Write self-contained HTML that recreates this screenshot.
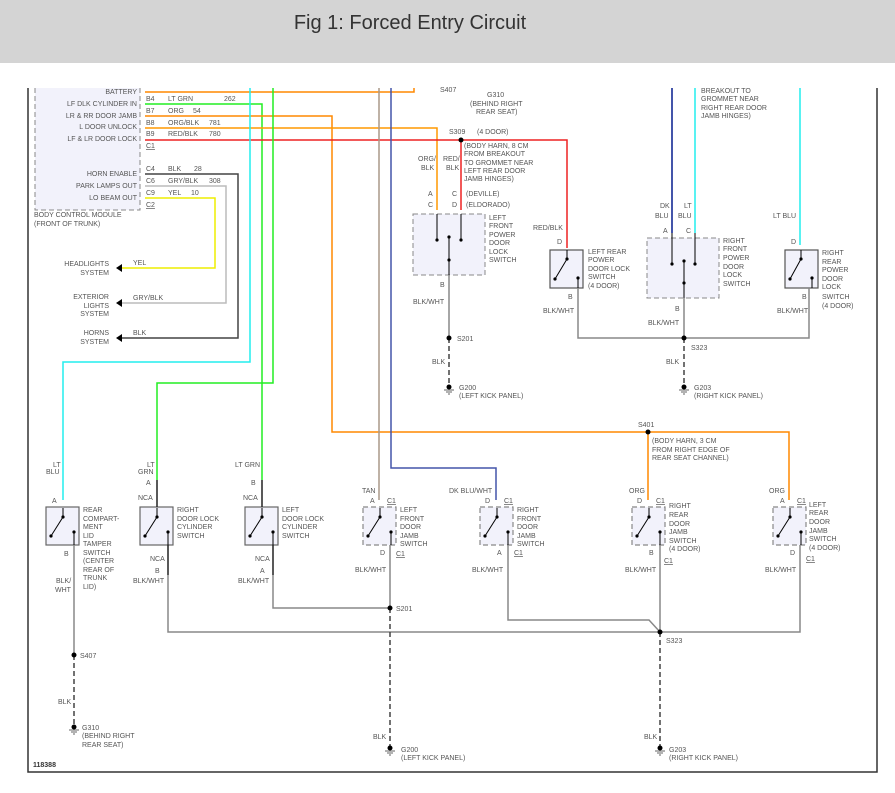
<!DOCTYPE html>
<html><head><meta charset="utf-8"><style>
html,body{margin:0;padding:0;background:#fff;width:895px;height:793px;overflow:hidden}
svg{display:block}
text{font-family:"Liberation Sans",sans-serif;font-size:7px;fill:#555}
.t{font-size:20px;fill:#333}
</style></head><body>
<svg width="895" height="793" viewBox="0 0 895 793">
<defs>
<g id="sw">
<rect x="0" y="0" width="33" height="38" fill="#f2f2fb" stroke="#666" stroke-width="1.2"/>
<line x1="5" y1="29" x2="17" y2="10" stroke="#000" stroke-width="1"/>
<circle cx="17" cy="10" r="1.6" fill="#000"/><circle cx="5" cy="29" r="1.6" fill="#000"/>
<line x1="17" y1="10" x2="17" y2="1" stroke="#000"/>
<circle cx="28" cy="25" r="1.6" fill="#000"/>
<line x1="28" y1="25" x2="28" y2="38" stroke="#000"/>
</g>
<g id="swd">
<rect x="0" y="0" width="33" height="38" fill="#f2f2fb" stroke="#888" stroke-width="1.2" stroke-dasharray="5,3"/>
<line x1="5" y1="29" x2="17" y2="10" stroke="#000" stroke-width="1"/>
<circle cx="17" cy="10" r="1.6" fill="#000"/><circle cx="5" cy="29" r="1.6" fill="#000"/>
<line x1="17" y1="10" x2="17" y2="1" stroke="#000"/>
<circle cx="28" cy="25" r="1.6" fill="#000"/>
<line x1="28" y1="25" x2="28" y2="38" stroke="#000"/>
</g>
<g id="gnd"><circle cx="0" cy="0" r="2.5" fill="#000"/><line x1="-5" y1="3" x2="5" y2="3" stroke="#666"/><line x1="-3" y1="5" x2="3" y2="5" stroke="#666"/><line x1="-1" y1="7" x2="1" y2="7" stroke="#666"/></g>
</defs>
<rect x="0" y="0" width="895" height="63" fill="#d4d4d4"/>
<text x="410" y="29" class="t" text-anchor="middle">Fig 1: Forced Entry Circuit</text>
<!-- frame -->
<path d="M28 88 V772 H877 V88" fill="none" stroke="#333" stroke-width="1.5"/>
<!-- BCM -->
<path d="M35 88 V210 H140 V88" fill="#f2f2fb" stroke="#888" stroke-dasharray="5,3"/>
<g text-anchor="end">
<text x="137" y="94">BATTERY</text><text x="137" y="106">LF DLK CYLINDER IN</text><text x="137" y="118">LR &amp; RR DOOR JAMB</text><text x="137" y="129">L DOOR UNLOCK</text><text x="137" y="141">LF &amp; LR DOOR LOCK</text>
<text x="137" y="176">HORN ENABLE</text><text x="137" y="188">PARK LAMPS OUT</text><text x="137" y="200">LO BEAM OUT</text>
</g>
<text x="146" y="101">B4</text><text x="146" y="113">B7</text><text x="146" y="125">B8</text><text x="146" y="136">B9</text><text x="146" y="148" text-decoration="underline">C1</text>
<text x="146" y="171">C4</text><text x="146" y="183">C6</text><text x="146" y="195">C9</text><text x="146" y="207" text-decoration="underline">C2</text>
<text x="168" y="101">LT GRN</text><text x="224" y="101">262</text><text x="168" y="113">ORG</text><text x="193" y="113">54</text>
<text x="168" y="125">ORG/BLK</text><text x="209" y="125">781</text><text x="168" y="136">RED/BLK</text><text x="209" y="136">780</text>
<text x="168" y="171">BLK</text><text x="194" y="171">28</text><text x="168" y="183">GRY/BLK</text><text x="209" y="183">308</text><text x="168" y="195">YEL</text><text x="191" y="195">10</text>
<text x="34" y="217">BODY CONTROL MODULE</text><text x="34" y="226">(FRONT OF TRUNK)</text>
<!-- BCM outputs -->
<path d="M145 174 H238 V338 H122" fill="none" stroke="#444" stroke-width="1.5"/>
<path d="M145 186 H226 V303 H122" fill="none" stroke="#bbb" stroke-width="1.5"/>
<path d="M145 198 H215 V268 H122" fill="none" stroke="#ee0" stroke-width="1.5"/>
<path d="M116 268 l6 -4 v8z M116 303 l6 -4 v8z M116 338 l6 -4 v8z" fill="#000"/>
<text x="133" y="265">YEL</text><text x="133" y="300">GRY/BLK</text><text x="133" y="335">BLK</text>
<g text-anchor="end"><text x="109" y="266">HEADLIGHTS</text><text x="109" y="275">SYSTEM</text>
<text x="109" y="299">EXTERIOR</text><text x="109" y="308">LIGHTS</text><text x="109" y="316">SYSTEM</text>
<text x="109" y="335">HORNS</text><text x="109" y="344">SYSTEM</text></g>
<!-- main wires -->
<path d="M145 92 H414 V88" fill="none" stroke="#f80" stroke-width="1.5"/>
<path d="M145 104 H262 V480" fill="none" stroke="#2e2" stroke-width="1.5"/>
<path d="M145 116 H332 V432 H789 V500 M648 432 V500" fill="none" stroke="#f80" stroke-width="1.5"/>
<path d="M145 128 H437 V210" fill="none" stroke="#f90" stroke-width="1.5"/>
<path d="M145 140 H567 V248 M461 140 V210" fill="none" stroke="#e22" stroke-width="1.5"/>
<path d="M250 88 V362 H63 V500" fill="none" stroke="#2ee" stroke-width="1.5"/>
<path d="M273 88 V383 H157 V480" fill="none" stroke="#2e2" stroke-width="1.5"/>
<path d="M379 88 V500" fill="none" stroke="#a98" stroke-width="1.5"/>
<path d="M391 88 V468 H496 V500" fill="none" stroke="#45a" stroke-width="1.5"/>
<path d="M672 88 V233" fill="none" stroke="#45a" stroke-width="2"/>
<path d="M695 88 V233 M800 88 V245" fill="none" stroke="#2ee" stroke-width="1.5"/>
<circle cx="461" cy="140" r="2.5" fill="#000"/><circle cx="648" cy="432" r="2.5" fill="#000"/>
<text x="440" y="92">S407</text><text x="487" y="97">G310</text><text x="470" y="106">(BEHIND RIGHT</text><text x="476" y="114">REAR SEAT)</text>
<text x="449" y="134">S309</text><text x="477" y="134">(4 DOOR)</text>
<text x="464" y="148">(BODY HARN, 8 CM</text><text x="464" y="156">FROM BREAKOUT</text><text x="464" y="165">TO GROMMET NEAR</text><text x="464" y="173">LEFT REAR DOOR</text><text x="464" y="181">JAMB HINGES)</text>
<text x="418" y="161">ORG/</text><text x="421" y="170">BLK</text><text x="443" y="161">RED/</text><text x="446" y="170">BLK</text>
<text x="428" y="196">A</text><text x="452" y="196">C</text><text x="466" y="196">(DEVILLE)</text>
<text x="428" y="207">C</text><text x="452" y="207">D</text><text x="466" y="207">(ELDORADO)</text>
<text x="701" y="93">BREAKOUT TO</text><text x="701" y="101">GROMMET NEAR</text><text x="701" y="110">RIGHT REAR DOOR</text><text x="701" y="118">JAMB HINGES)</text>
<!-- LF power switch -->
<rect x="413" y="214" width="72" height="61" fill="#f2f2fb" stroke="#888" stroke-dasharray="5,3"/>
<path d="M437 214 V240 M461 214 V240 M449 237 V275" stroke="#000"/>
<circle cx="437" cy="240" r="1.6"/><circle cx="461" cy="240" r="1.6"/><circle cx="449" cy="237" r="1.6"/><circle cx="449" cy="260" r="1.6"/>
<text x="489" y="220">LEFT</text><text x="489" y="228">FRONT</text><text x="489" y="237">POWER</text><text x="489" y="245">DOOR</text><text x="489" y="254">LOCK</text><text x="489" y="262">SWITCH</text>
<text x="440" y="287">B</text><text x="413" y="304">BLK/WHT</text>
<path d="M449 275 V338" stroke="#888" stroke-width="1.5"/>
<path d="M449 338 V387" stroke="#444" stroke-width="1.5" stroke-dasharray="5,3"/>
<circle cx="449" cy="338" r="2.5"/><text x="457" y="341">S201</text><text x="432" y="364">BLK</text>
<use href="#gnd" x="449" y="387"/><text x="459" y="390">G200</text><text x="459" y="398">(LEFT KICK PANEL)</text>
<!-- LR power -->
<rect x="550" y="250" width="33" height="38" fill="#f2f2fb" stroke="#555" stroke-width="1.2"/>
<path d="M555 279 L567 259 M567 259 V250 M578 278 V288" stroke="#000"/><circle cx="567" cy="259" r="1.6"/><circle cx="555" cy="279" r="1.6"/><circle cx="578" cy="278" r="1.6"/>
<text x="533" y="230">RED/BLK</text><text x="557" y="244">D</text>
<text x="588" y="254">LEFT REAR</text><text x="588" y="262">POWER</text><text x="588" y="271">DOOR LOCK</text><text x="588" y="279">SWITCH</text><text x="588" y="288">(4 DOOR)</text>
<text x="568" y="299">B</text><text x="543" y="313">BLK/WHT</text>
<!-- RF power -->
<rect x="647" y="238" width="72" height="60" fill="#f2f2fb" stroke="#888" stroke-dasharray="5,3"/>
<path d="M672 233 V264 M695 233 V264 M684 261 V298" stroke="#000"/><circle cx="672" cy="264" r="1.6"/><circle cx="695" cy="264" r="1.6"/><circle cx="684" cy="261" r="1.6"/><circle cx="684" cy="283" r="1.6"/>
<text x="660" y="208">DK</text><text x="655" y="218">BLU</text><text x="684" y="208">LT</text><text x="678" y="218">BLU</text>
<text x="663" y="233">A</text><text x="686" y="233">C</text>
<text x="723" y="243">RIGHT</text><text x="723" y="251">FRONT</text><text x="723" y="260">POWER</text><text x="723" y="269">DOOR</text><text x="723" y="277">LOCK</text><text x="723" y="286">SWITCH</text>
<text x="675" y="311">B</text><text x="648" y="325">BLK/WHT</text>
<!-- RR power -->
<rect x="785" y="250" width="33" height="38" fill="#f2f2fb" stroke="#555" stroke-width="1.2"/>
<path d="M790 279 L801 259 M801 259 V250 M812 278 V288" stroke="#000"/><circle cx="801" cy="259" r="1.6"/><circle cx="790" cy="279" r="1.6"/><circle cx="812" cy="278" r="1.6"/>
<text x="773" y="218">LT BLU</text><text x="791" y="244">D</text>
<text x="822" y="255">RIGHT</text><text x="822" y="264">REAR</text><text x="822" y="272">POWER</text><text x="822" y="281">DOOR</text><text x="822" y="289">LOCK</text><text x="822" y="299">SWITCH</text><text x="822" y="308">(4 DOOR)</text>
<text x="802" y="299">B</text><text x="777" y="313">BLK/WHT</text>
<path d="M578 288 V338 H809 V288 M684 298 V338" fill="none" stroke="#888" stroke-width="1.5"/>
<path d="M684 338 V387" stroke="#444" stroke-width="1.5" stroke-dasharray="5,3"/>
<circle cx="684" cy="338" r="2.5"/><text x="691" y="350">S323</text><text x="666" y="364">BLK</text>
<use href="#gnd" x="684" y="387"/><text x="694" y="390">G203</text><text x="694" y="398">(RIGHT KICK PANEL)</text>
<!-- bottom switches -->
<use href="#sw" x="46" y="507"/><use href="#sw" x="140" y="507"/><use href="#sw" x="245" y="507"/>
<use href="#swd" x="363" y="507"/><use href="#swd" x="480" y="507"/><use href="#swd" x="632" y="507"/><use href="#swd" x="773" y="507"/>
<path d="M157 480 V507 M262 480 V507" stroke="#222" stroke-width="1.5"/>
<path d="M168 545 V575 M273 545 V575" stroke="#222" stroke-width="1.5"/>
<!-- bottom grounds -->
<path d="M74 545 V655" stroke="#888" stroke-width="1.5"/>
<path d="M74 655 V727" stroke="#444" stroke-width="1.5" stroke-dasharray="5,3"/>
<circle cx="74" cy="655" r="2.5"/><use href="#gnd" x="74" y="727"/>
<path d="M168 575 V632 H800 V545 M273 575 V608 H390 M390 545 V608 M508 545 V620 H649 L660 632 M660 545 V632" fill="none" stroke="#888" stroke-width="1.5"/>
<path d="M390 608 V748 M660 632 V748" stroke="#444" stroke-width="1.5" stroke-dasharray="5,3"/>
<circle cx="390" cy="608" r="2.5"/><circle cx="660" cy="632" r="2.5"/>
<use href="#gnd" x="390" y="748"/><use href="#gnd" x="660" y="748"/>
<text x="53" y="467">LT</text><text x="46" y="474">BLU</text><text x="52" y="503">A</text>
<text x="83" y="512">REAR</text><text x="83" y="521">COMPART-</text><text x="83" y="529">MENT</text><text x="83" y="538">LID</text><text x="83" y="546">TAMPER</text><text x="83" y="555">SWITCH</text><text x="83" y="563">(CENTER</text><text x="83" y="572">REAR OF</text><text x="83" y="580">TRUNK</text><text x="83" y="589">LID)</text>
<text x="64" y="556">B</text><text x="56" y="583">BLK/</text><text x="55" y="592">WHT</text>
<text x="80" y="658">S407</text><text x="58" y="704">BLK</text><text x="82" y="730">G310</text><text x="82" y="738">(BEHIND RIGHT</text><text x="82" y="747">REAR SEAT)</text>
<text x="147" y="467">LT</text><text x="138" y="474">GRN</text><text x="146" y="485">A</text><text x="138" y="500">NCA</text>
<text x="177" y="512">RIGHT</text><text x="177" y="521">DOOR LOCK</text><text x="177" y="529">CYLINDER</text><text x="177" y="538">SWITCH</text>
<text x="150" y="561">NCA</text><text x="155" y="573">B</text><text x="133" y="583">BLK/WHT</text>
<text x="235" y="467">LT GRN</text><text x="251" y="485">B</text><text x="243" y="500">NCA</text>
<text x="282" y="512">LEFT</text><text x="282" y="521">DOOR LOCK</text><text x="282" y="529">CYLINDER</text><text x="282" y="538">SWITCH</text>
<text x="255" y="561">NCA</text><text x="260" y="573">A</text><text x="238" y="583">BLK/WHT</text>
<text x="362" y="493">TAN</text><text x="370" y="503">A</text><text x="387" y="503" text-decoration="underline">C1</text>
<text x="400" y="512">LEFT</text><text x="400" y="521">FRONT</text><text x="400" y="529">DOOR</text><text x="400" y="538">JAMB</text><text x="400" y="546">SWITCH</text>
<text x="380" y="555">D</text><text x="396" y="556" text-decoration="underline">C1</text><text x="355" y="572">BLK/WHT</text>
<text x="396" y="611">S201</text><text x="373" y="739">BLK</text><text x="401" y="752">G200</text><text x="401" y="760">(LEFT KICK PANEL)</text>
<text x="449" y="493">DK BLU/WHT</text><text x="485" y="503">D</text><text x="504" y="503" text-decoration="underline">C1</text>
<text x="517" y="512">RIGHT</text><text x="517" y="521">FRONT</text><text x="517" y="529">DOOR</text><text x="517" y="538">JAMB</text><text x="517" y="546">SWITCH</text>
<text x="497" y="555">A</text><text x="514" y="555" text-decoration="underline">C1</text><text x="472" y="572">BLK/WHT</text>
<text x="629" y="493">ORG</text><text x="637" y="503">D</text><text x="656" y="503" text-decoration="underline">C1</text>
<text x="669" y="508">RIGHT</text><text x="669" y="517">REAR</text><text x="669" y="526">DOOR</text><text x="669" y="534">JAMB</text><text x="669" y="543">SWITCH</text><text x="669" y="551">(4 DOOR)</text>
<text x="649" y="555">B</text><text x="664" y="563" text-decoration="underline">C1</text><text x="625" y="572">BLK/WHT</text>
<text x="666" y="643">S323</text><text x="644" y="739">BLK</text><text x="669" y="752">G203</text><text x="669" y="760">(RIGHT KICK PANEL)</text>
<text x="638" y="427">S401</text><text x="652" y="443">(BODY HARN, 3 CM</text><text x="652" y="452">FROM RIGHT EDGE OF</text><text x="652" y="460">REAR SEAT CHANNEL)</text>
<text x="769" y="493">ORG</text><text x="780" y="503">A</text><text x="797" y="503" text-decoration="underline">C1</text>
<text x="809" y="507">LEFT</text><text x="809" y="515">REAR</text><text x="809" y="524">DOOR</text><text x="809" y="533">JAMB</text><text x="809" y="541">SWITCH</text><text x="809" y="550">(4 DOOR)</text>
<text x="790" y="555">D</text><text x="806" y="561" text-decoration="underline">C1</text><text x="765" y="572">BLK/WHT</text>
<text x="33" y="767" style="font-weight:bold;fill:#333">118388</text>
</svg>
</body></html>
